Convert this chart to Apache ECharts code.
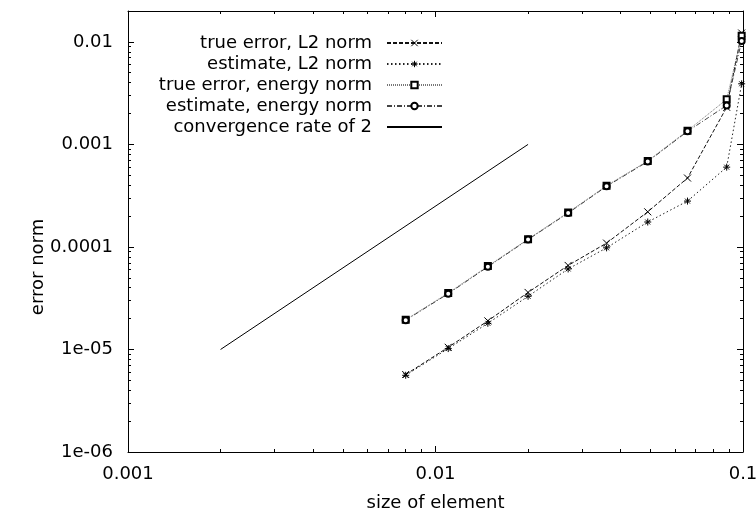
<!DOCTYPE html>
<html><head><meta charset="utf-8">
<script src="https://cdn.jsdelivr.net/npm/echarts@6/dist/echarts.min.js"></script>
<style>html,body{margin:0;padding:0;background:#fff}#c{width:756px;height:514px}</style>
</head><body><div id="c"></div>
<script>
// ---- data ----
const elementSize     = [0.008, 0.011, 0.0148, 0.02, 0.027, 0.036, 0.049, 0.066, 0.0885, 0.099];
const trueErrorL2     = [5.7e-6, 1.05e-5, 1.9e-5, 3.6e-5, 6.6e-5, 1.09e-4, 2.2e-4, 4.7e-4, 2.3e-3, 0.0122];
const estimateL2      = [5.6e-6, 1.02e-5, 1.8e-5, 3.3e-5, 6.1e-5, 9.8e-5, 1.75e-4, 2.8e-4, 6.0e-4, 0.0039];
const trueErrorEnergy = [1.95e-5, 3.55e-5, 6.5e-5, 1.19e-4, 2.17e-4, 3.95e-4, 6.9e-4, 1.36e-3, 2.75e-3, 0.0115];
const estimateEnergy  = [1.93e-5, 3.5e-5, 6.4e-5, 1.18e-4, 2.14e-4, 3.9e-4, 6.8e-4, 1.34e-3, 2.4e-3, 0.0102];
const rateX = [0.002, 0.02];
const rateY = [1e-5, 1e-3];
const seriesNames = ['true error, L2 norm', 'estimate, L2 norm', 'true error, energy norm', 'estimate, energy norm', 'convergence rate of 2'];

const xMajorTicks = [0.001, 0.01, 0.1];
const xTickLabels = ['0.001', '0.01', '0.1'];
const xMinorTicks = [0.002, 0.003, 0.004, 0.005, 0.006, 0.007, 0.008, 0.009,
                     0.02, 0.03, 0.04, 0.05, 0.06, 0.07, 0.08, 0.09];
const yMajorTicks = [1e-6, 1e-5, 1e-4, 1e-3, 1e-2];
const yTickLabels = ['1e-06', '1e-05', '0.0001', '0.001', '0.01'];
const yMinorTicks = [2e-6, 3e-6, 4e-6, 5e-6, 6e-6, 7e-6, 8e-6, 9e-6,
                     2e-5, 3e-5, 4e-5, 5e-5, 6e-5, 7e-5, 8e-5, 9e-5,
                     2e-4, 3e-4, 4e-4, 5e-4, 6e-4, 7e-4, 8e-4, 9e-4,
                     2e-3, 3e-3, 4e-3, 5e-3, 6e-3, 7e-3, 8e-3, 9e-3];
const xRange = [0.001, 0.1];
const yRange = [1e-6, 0.02];

// ---- chart ----
const FONT = 'DejaVu Sans';
const FS = 18;
function labelFor(v, ticks, labels) {
  for (let i = 0; i < ticks.length; i++) {
    if (Math.abs(Math.log10(v) - Math.log10(ticks[i])) < 1e-6) return labels[i];
  }
  return '';
}
function pair(xs, ys) { return xs.map((x, i) => [x, ys[i]]); }

function axis(kind, grid, pos, major, showLine, showLabel) {
  const isX = kind === 'x';
  const ticks = major ? (isX ? xMajorTicks : yMajorTicks) : (isX ? xMinorTicks : yMinorTicks);
  const range = isX ? xRange : yRange;
  return {
    type: 'log', logBase: 10, gridIndex: grid, position: pos,
    min: range[0], max: range[1],
    axisLine: {show: showLine, onZero: false, lineStyle: {color: '#000', width: 1}},
    axisTick: {show: true, inside: true, length: major ? 6 : 3, customValues: ticks,
               lineStyle: {color: '#000', width: 1}},
    axisLabel: {show: showLabel, customValues: isX ? xMajorTicks : yMajorTicks,
                margin: isX ? 13 : 15, color: '#000', fontFamily: FONT, fontSize: FS,
                formatter: v => isX ? labelFor(v, xMajorTicks, xTickLabels) : labelFor(v, yMajorTicks, yTickLabels)},
    splitLine: {show: false}, minorTick: {show: false}, minorSplitLine: {show: false}
  };
}

const xAxes = [axis('x', 0, 'bottom', true, true, true), axis('x', 0, 'top', true, true, false),
               axis('x', 1, 'bottom', false, false, false), axis('x', 1, 'top', false, false, false)];
xAxes[0].name = 'size of element';
xAxes[0].nameLocation = 'middle';
xAxes[0].nameGap = 42;
xAxes[0].nameTextStyle = {color: '#000', fontFamily: FONT, fontSize: FS};
const yAxes = [axis('y', 0, 'left', true, true, true), axis('y', 0, 'right', true, true, false),
               axis('y', 1, 'left', false, false, false), axis('y', 1, 'right', false, false, false)];

const CROSS = 'path://M0,0L10,10M10,0L0,10';
const STAR = 'path://M0,5L10,5M5,0L5,10M1.5,1.5L8.5,8.5M8.5,1.5L1.5,8.5';
function lineSeries(name, data, symbol, size, lineColor, dash) {
  return {
    name, type: 'line', xAxisIndex: 0, yAxisIndex: 0, data,
    symbol, symbolSize: size, showAllSymbol: true,
    itemStyle: {color: '#000', borderColor: '#000', borderWidth: 1},
    lineStyle: {color: lineColor, width: 1, type: dash},
    emphasis: {disabled: true}, z: 3
  };
}
const series = [
  lineSeries(seriesNames[0], pair(elementSize, trueErrorL2), CROSS, 7, '#111', [4, 2]),
  lineSeries(seriesNames[1], pair(elementSize, estimateL2), STAR, 7, '#222', [1.5, 2.5]),
  lineSeries(seriesNames[2], pair(elementSize, trueErrorEnergy), 'emptyRect', 6, '#777', [1, 1]),
  lineSeries(seriesNames[3], pair(elementSize, estimateEnergy), 'emptyCircle', 6, '#444', [5, 2, 1, 2]),
  {name: seriesNames[4], type: 'line', xAxisIndex: 0, yAxisIndex: 0, data: pair(rateX, rateY),
   symbol: 'none', itemStyle: {color: 'rgba(0,0,0,0)'},
   lineStyle: {color: '#000', width: 1, type: 'solid'}, emphasis: {disabled: true}, z: 2}
];

const gridRect = {left: 128, right: 13, top: 11, bottom: 62, containLabel: false, outerBoundsMode: 'none'};
const chart = echarts.init(document.getElementById('c'), null, {renderer: 'canvas'});
chart.setOption({
  animation: false,
  backgroundColor: '#fff',
  grid: [Object.assign({}, gridRect), Object.assign({}, gridRect)],
  xAxis: xAxes,
  yAxis: yAxes,
  legend: {
    orient: 'vertical', right: 308, top: 29, align: 'right',
    itemWidth: 55, itemHeight: 8, itemGap: 3,
    data: seriesNames,
    formatter: n => '{a|' + n + '}',
    itemStyle: {borderColor: 'inherit', borderWidth: 1},
    textStyle: {color: '#000', fontFamily: FONT, fontSize: FS,
      rich: {a: {width: 190, align: 'right', fontFamily: FONT, fontSize: FS, color: '#000', padding: [0, 10, 0, 0]}}},
    selectedMode: false
  },
  graphic: [{
    type: 'text', x: 38, y: 267, rotation: Math.PI / 2,
    style: {text: 'error norm', align: 'center', verticalAlign: 'middle',
            fill: '#000', font: FS + 'px "' + FONT + '"'}
  }],
  series
});
</script></body></html>
